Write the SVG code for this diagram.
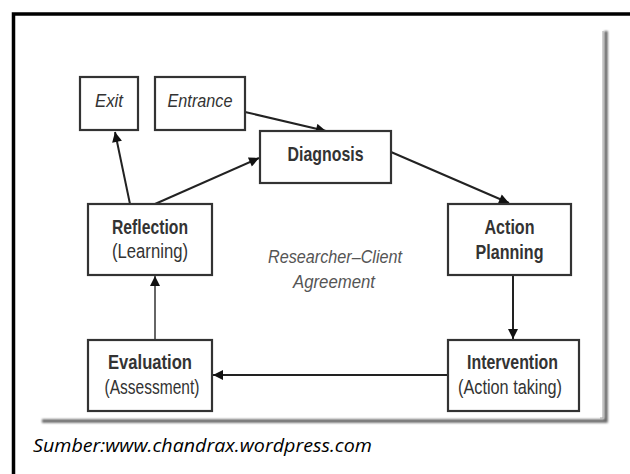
<svg xmlns="http://www.w3.org/2000/svg" width="630" height="474" viewBox="0 0 630 474">
<defs>
<marker id="ah" viewBox="0 0 10 10" refX="10" refY="5" markerWidth="11" markerHeight="10" markerUnits="userSpaceOnUse" orient="auto">
<path d="M0,0 L10,5 L0,10 z" fill="#111"/>
</marker>
<filter id="sh" x="-5%" y="-5%" width="110%" height="110%"><feGaussianBlur stdDeviation="1"/></filter>
</defs>
<style>
.box{fill:#fff;stroke:#333;stroke-width:2.2}
.t{font-family:"Liberation Sans",Arial,sans-serif;font-size:20.5px;fill:#333;text-anchor:middle}
.b{font-weight:bold}
.i{font-style:italic;font-size:18.5px}
.c{stroke:#222;stroke-width:2;fill:none;marker-end:url(#ah)}
</style>
<rect width="630" height="474" fill="#fff"/>
<rect x="13.5" y="14" width="700" height="520" fill="none" stroke="#000" stroke-width="3.5"/>
<g id="frame-shadow" filter="url(#sh)">
<path d="M42,421 L606,421 L606,31" fill="none" stroke="#666" stroke-width="3.5"/>
</g>
<path d="M600,418 L603,418 L603,31" fill="none" stroke="#aaa" stroke-width="1"/>
<g id="connectors">
<line class="c" x1="130" y1="204" x2="115" y2="132"/>
<line class="c" x1="155" y1="204" x2="259" y2="158"/>
<line class="c" x1="245" y1="112" x2="326" y2="131"/>
<line class="c" x1="391" y1="152" x2="509" y2="203"/>
<line class="c" x1="513" y1="275" x2="513" y2="339"/>
<line class="c" x1="448" y1="375" x2="213" y2="375"/>
<line class="c" x1="155" y1="340" x2="155" y2="276" style="stroke:#666"/>
</g>
<g id="exit">
<rect class="box" x="80" y="77" width="58" height="53"/>
<text class="t i" x="109" y="107" textLength="28" lengthAdjust="spacingAndGlyphs">Exit</text>
</g>
<g id="entrance">
<rect class="box" x="155" y="77" width="90" height="53"/>
<text class="t i" x="200" y="107" textLength="65" lengthAdjust="spacingAndGlyphs">Entrance</text>
</g>
<g id="diagnosis">
<rect class="box" x="260" y="131" width="131" height="52"/>
<text class="t b" x="325.5" y="160.5" textLength="76" lengthAdjust="spacingAndGlyphs">Diagnosis</text>
</g>
<g id="action-planning">
<rect class="box" x="448" y="204" width="123" height="71"/>
<text class="t b" x="509.5" y="233.5" textLength="50" lengthAdjust="spacingAndGlyphs">Action</text>
<text class="t b" x="509.5" y="258.5" textLength="68" lengthAdjust="spacingAndGlyphs">Planning</text>
</g>
<g id="reflection">
<rect class="box" x="88" y="204" width="124" height="71"/>
<text class="t b" x="150" y="233.5" textLength="76" lengthAdjust="spacingAndGlyphs">Reflection</text>
<text class="t" x="150" y="258" textLength="76" lengthAdjust="spacingAndGlyphs">(Learning)</text>
</g>
<g id="evaluation">
<rect class="box" x="88" y="340" width="124" height="71"/>
<text class="t b" x="150" y="368.5" textLength="84" lengthAdjust="spacingAndGlyphs">Evaluation</text>
<text class="t" x="152" y="393.5" textLength="95" lengthAdjust="spacingAndGlyphs">(Assessment)</text>
</g>
<g id="intervention">
<rect class="box" x="448" y="340" width="131" height="71"/>
<text class="t b" x="512.5" y="368.5" textLength="91" lengthAdjust="spacingAndGlyphs">Intervention</text>
<text class="t" x="510" y="393.5" textLength="104" lengthAdjust="spacingAndGlyphs">(Action taking)</text>
</g>
<g id="agreement">
<text class="t i" x="335" y="263" textLength="134" lengthAdjust="spacingAndGlyphs" style="fill:#555">Researcher–Client</text>
<text class="t i" x="334" y="288" textLength="82" lengthAdjust="spacingAndGlyphs" style="fill:#555">Agreement</text>
</g>
<text x="33" y="452" font-family="'Open Sans','Liberation Sans',sans-serif" font-style="italic" font-size="19" fill="#000" textLength="339" lengthAdjust="spacingAndGlyphs">Sumber:www.chandrax.wordpress.com</text>
</svg>
